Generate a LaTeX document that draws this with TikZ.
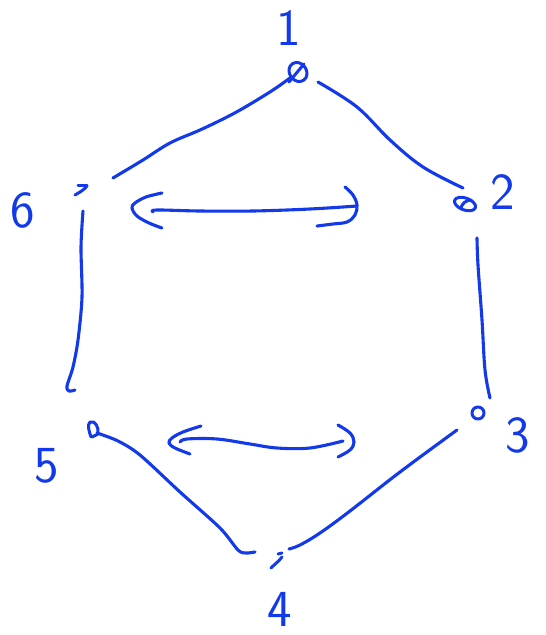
\documentclass[tikz,border=0pt]{standalone}
\usepackage{tikz}
\definecolor{ink}{RGB}{18,58,235}
\tikzset{
  pen/.style={draw=ink, line width=3.1pt, line cap=round, line join=round},
  lbl/.style={text=ink, inner sep=0pt, font=\sffamily\fontsize{52}{52}\selectfont},
  vtx/.style={pen, line width=3pt}
}
\begin{document}
\begin{tikzpicture}[x=1pt,y=-1pt]
\useasboundingbox (0,0) rectangle (546,635);
\fill[white] (0,0) rectangle (546,635);

% labels
\node[lbl] (l1) at (289,28) {1};
\node[lbl] (l2) at (503,192) {2};
\node[lbl] (l3) at (518,435) {3};
\node[lbl] (l4) at (280,609) {4};
\node[lbl] (l5) at (47,466) {5};
\node[lbl] (l6) at (23,210) {6};

% vertices
\coordinate (v1) at (298,72);
\coordinate (v2) at (465,204);
\coordinate (v3) at (478,413);
\coordinate (v4) at (277,560);
\coordinate (v5) at (93,430);
\coordinate (v6) at (81,189);
\draw[vtx, rotate around={35:(v1)}] (v1) ellipse [x radius=8.5pt, y radius=10pt];
\draw[vtx] (289,82) -- (304,64);
\draw[vtx, rotate around={-20:(v2)}] (v2) ellipse [x radius=11pt, y radius=6pt];
\draw[vtx] (461,209) .. controls (461,204) and (466,200) .. (471,200);
\draw[vtx] (v3) circle [radius=6pt];
\draw[vtx] (271,568) .. controls (275,564) and (279,561) .. (282,557);
\draw[vtx] (278,554) -- (282,553);
\draw[vtx] (91,437) .. controls (89,431) and (87,425) .. (90,422) .. controls (95,420) and (99,427) .. (98,434) -- (92,437);
\draw[vtx] (75,195) .. controls (80,192) and (84,190) .. (87,186);
\draw[vtx] (78,185) -- (87,185);

% edge endpoints
\coordinate (e16a) at (290,78);  \coordinate (e16b) at (113,178);
\coordinate (e12a) at (318,82);  \coordinate (e12b) at (463,188);
\coordinate (e23a) at (477,238); \coordinate (e23b) at (490,398);
\coordinate (e34a) at (457,430); \coordinate (e34b) at (289,549);
\coordinate (e54a) at (97,433);  \coordinate (e54b) at (255,552);
\coordinate (e65a) at (83,211);  \coordinate (e65b) at (75,390);

% edges
\draw[pen] plot[smooth, tension=0.6] coordinates {(e16a) (273,90) (247,106) (227,117) (200,130) (170,143) (143,160) (e16b)};
\draw[pen] plot[smooth, tension=0.6] coordinates {(e12a) (357,107) (390,140) (423,167) (e12b)};
\draw[pen] plot[smooth, tension=0.6] coordinates {(e23a) (478,265) (482,320) (485,370) (e23b)};
\draw[pen] plot[smooth, tension=0.6] coordinates {(e34a) (400,472) (350,511) (320,533) (300,545) (e34b)};
\draw[pen] plot[smooth, tension=0.5] coordinates {(e54a) (118,441) (140,455) (180,492) (220,528) (238,550) (246,553) (e54b)};
\draw[pen] plot[smooth, tension=0.5] coordinates {(e65a) (81,247) (82,297) (78,340) (73,367) (67,386) (69,391) (e65b)};

% top double arrow
\coordinate (ta) at (153,212); \coordinate (tb) at (357,206);
\draw[pen] plot[smooth, tension=0.6] coordinates {(162,193) (146,197) (135,203) (132,208) (137,216) (149,223) (162,228)};
\draw[pen] plot[smooth, tension=0.6] coordinates {(ta) (157,210) (200,211) (253,211) (310,209) (tb)};
\draw[pen] plot[smooth, tension=0.6] coordinates {(345,187) (353,195) (357,205) (355,215) (347,222) (333,224) (317,226)};

% bottom double arrow
\coordinate (ba) at (180,442); \coordinate (bb) at (343,441);
\draw[pen] plot[smooth, tension=0.6] coordinates {(201,426) (183,432) (172,438) (169,443) (175,448) (190,454)};
\draw[pen] plot[smooth, tension=0.6] coordinates {(ba) (187,439) (217,439) (250,444) (277,448) (310,448) (bb)};
\draw[pen] plot[smooth, tension=0.6] coordinates {(338,425) (350,433) (354,442) (350,450) (338,457)};
\end{tikzpicture}
\end{document}
